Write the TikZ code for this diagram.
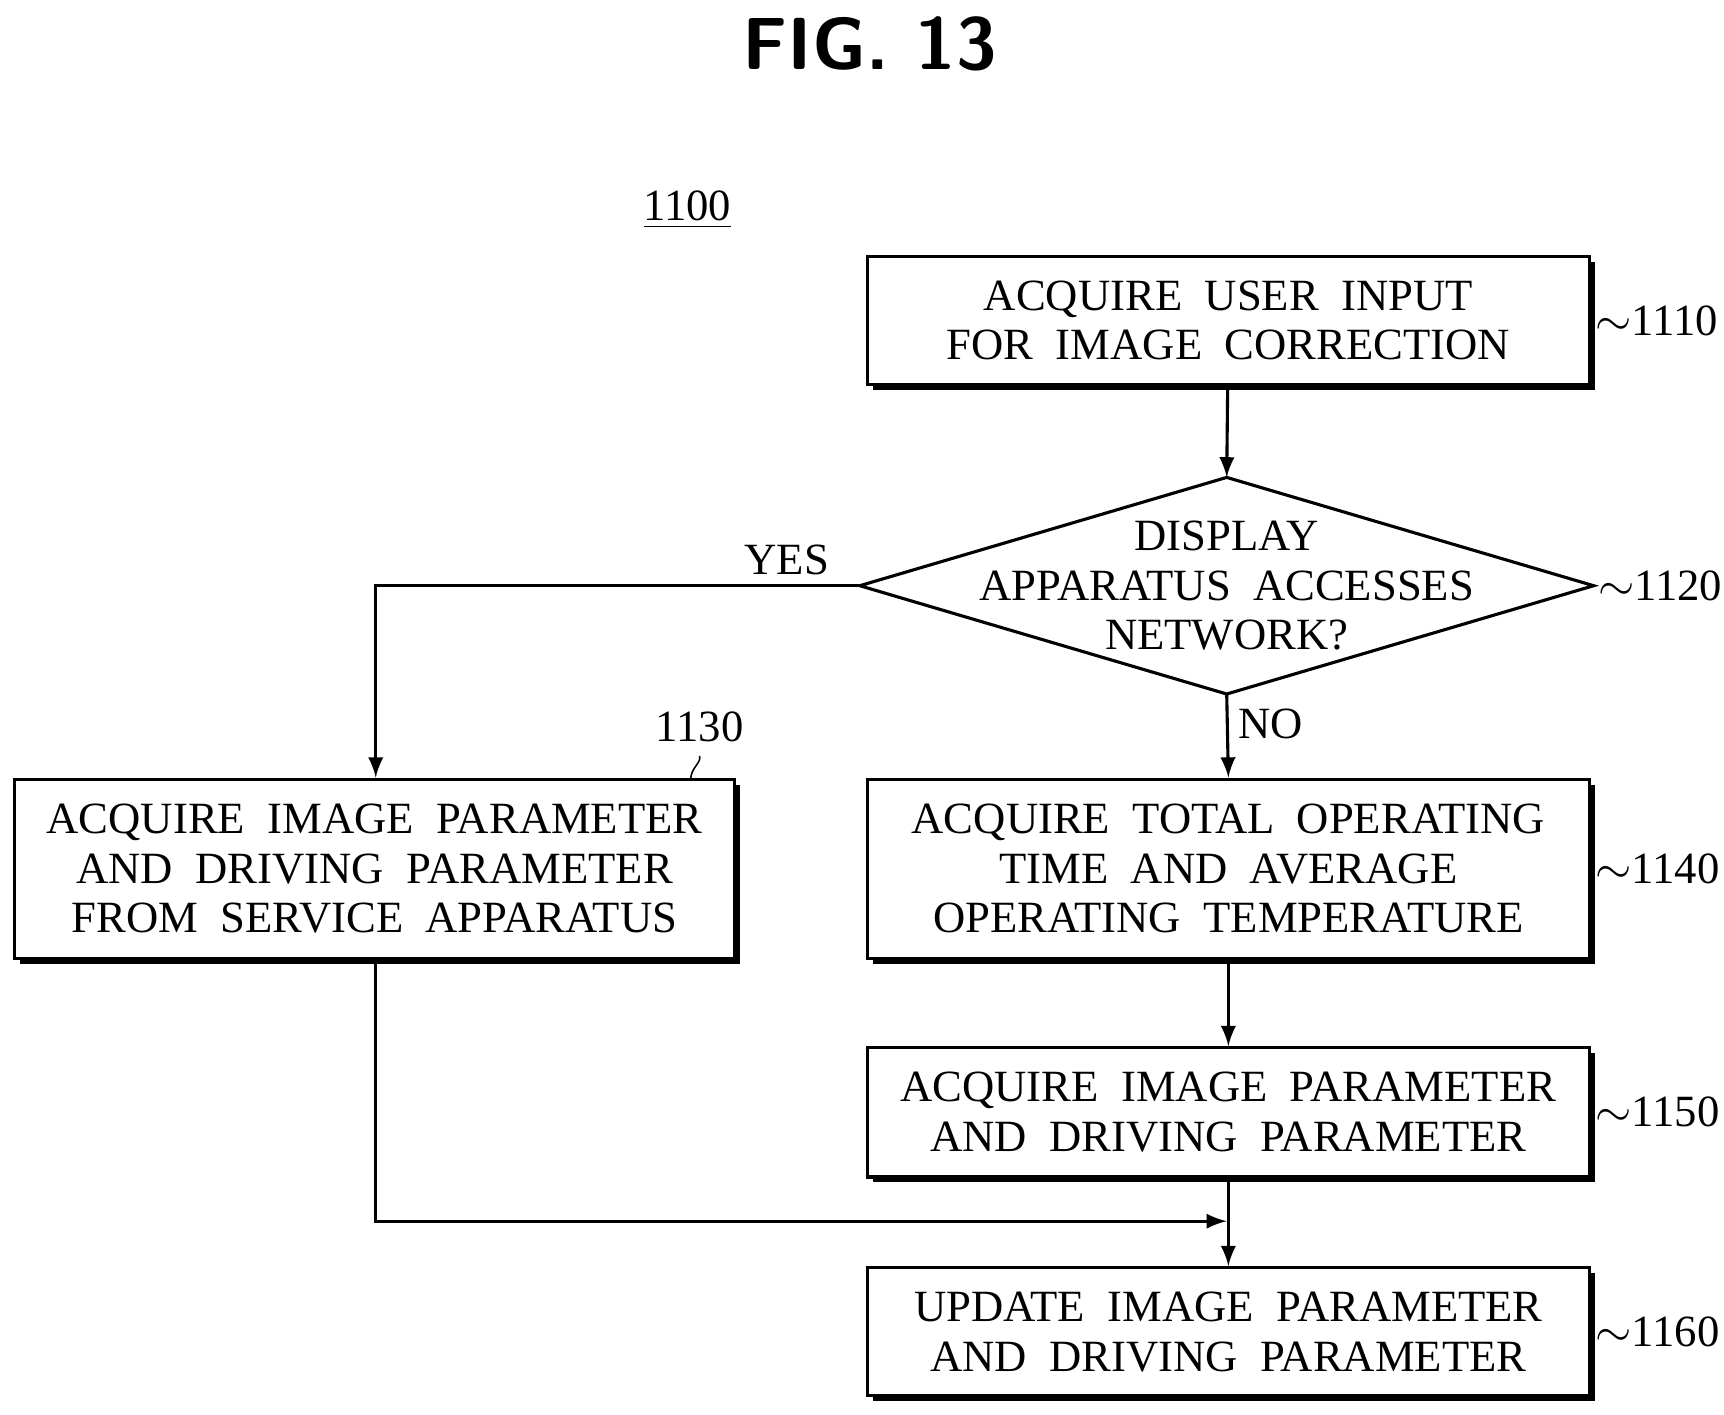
\documentclass[tikz,border=0pt]{standalone}
\usepackage{fontspec}
\setmainfont{Liberation Serif}
\usepackage{tikz}
\usetikzlibrary{shadows}

\tikzset{
  stepbox/.style={draw,thick,fill=white,align=center,inner sep=0pt,
    drop shadow={shadow xshift=0.05cm,shadow yshift=-0.05cm,fill=black,opacity=1},
    font=\fontsize{11.5}{12.8}\selectfont},
  flow/.style={thick,-latex},
  tag/.style={font=\fontsize{11.5}{13}\selectfont},
  num/.style={tag,anchor=west,inner sep=1pt}
}

\begin{document}
\begin{tikzpicture}
\useasboundingbox (0,0) rectangle (15.6,-12.8);

% Title and figure number
\node[font=\sffamily\bfseries\fontsize{19}{19}\selectfont] (title) at (7.87,-0.4) {FIG. 13};
\node[tag] (fig) at (6.22,-1.9) {\underline{1100}};

% Steps
\node[stepbox,minimum width=6.53cm,minimum height=1.16cm] (s1110) at (11.115,-2.9) {ACQUIRE\ \ USER\ \ INPUT\\FOR\ \ IMAGE\ \ CORRECTION};
\coordinate (dtop) at (11.1,-4.32);
\coordinate (dleft) at (7.78,-5.3);
\coordinate (dbottom) at (11.1,-6.28);
\coordinate (dright) at (14.42,-5.3);
\draw[thick] (dtop) -- (dright) -- (dbottom) -- (dleft) -- cycle;
\node[align=center,font=\fontsize{11.5}{12.8}\selectfont] (s1120) at (11.1,-5.3) {DISPLAY\\APPARATUS\ \ ACCESSES\\NETWORK?};
\node[stepbox,minimum width=6.52cm,minimum height=1.62cm] (s1130) at (3.39,-7.86) {ACQUIRE\ \ IMAGE\ \ PARAMETER\\AND\ \ DRIVING\ \ PARAMETER\\FROM\ \ SERVICE\ \ APPARATUS};
\node[stepbox,minimum width=6.53cm,minimum height=1.62cm] (s1140) at (11.115,-7.86) {ACQUIRE\ \ TOTAL\ \ OPERATING\\TIME\ \ AND\ \ AVERAGE\\OPERATING\ \ TEMPERATURE};
\node[stepbox,minimum width=6.53cm,minimum height=1.17cm] (s1150) at (11.115,-10.065) {ACQUIRE\ \ IMAGE\ \ PARAMETER\\AND\ \ DRIVING\ \ PARAMETER};
\node[stepbox,minimum width=6.53cm,minimum height=1.16cm] (s1160) at (11.115,-12.05) {UPDATE\ \ IMAGE\ \ PARAMETER\\AND\ \ DRIVING\ \ PARAMETER};

% Reference numerals
\node[num] (n1110) at (s1110.east) {$\sim$1110};
\node[num] (n1120) at (dright) {$\sim$1120};
\node[num] (n1140) at (s1140.east) {$\sim$1140};
\node[num] (n1150) at (s1150.east) {$\sim$1150};
\node[num] (n1160) at (s1160.east) {$\sim$1160};
\node[tag] (n1130) at (6.33,-6.58) {1130};
\draw (6.25,-7.05) .. controls (6.25,-6.95) and (6.35,-6.9) .. (n1130.south);

% Connectors
\coordinate (yes) at (3.4,-5.3);
\coordinate (join) at (3.4,-11.05);
\coordinate (merge) at (11.1,-11.05);
\draw[flow] (s1110) -- (dtop);
\draw[flow] (dleft) -- (yes) -- (s1130.north -| yes);
\draw[flow] (dbottom) -- (s1140.north);
\draw[flow] (s1140) -- (s1150);
\draw[flow] (s1130.south -| join) -- (join) -- (merge);
\draw[flow] (s1150) -- (s1160);

% Branch labels
\node[tag] (lyes) at (7.12,-5.07) {YES};
\node[tag] (lno) at (11.5,-6.55) {NO};
\end{tikzpicture}
\end{document}
